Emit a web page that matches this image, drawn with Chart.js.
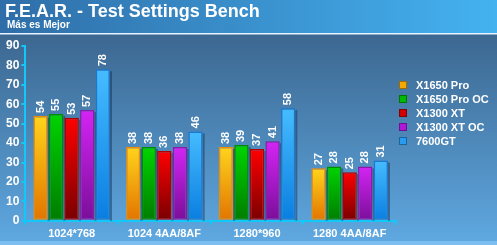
<!DOCTYPE html>
<html>
<head>
<meta charset="utf-8">
<script src="https://cdn.jsdelivr.net/npm/chart.js@4/dist/chart.umd.min.js"></script>
<style>
  html, body { margin: 0; padding: 0; background: #3f79ad; }
  #wrap { width: 497px; height: 245px; position: relative; }
</style>
</head>
<body>
<div id="wrap"><canvas id="benchChart" width="497" height="245"></canvas></div>
<script>
// chart values
const categories = ['1024*768', '1024 4AA/8AF', '1280*960', '1280 4AA/8AF'];
const seriesNames = ['X1650 Pro', 'X1650 Pro OC', 'X1300 XT', 'X1300 XT OC', '7600GT'];
const x1650Pro = [54, 38, 38, 27];
const x1650ProOC = [55, 38, 39, 28];
const x1300XT = [53, 36, 37, 25];
const x1300XTOC = [57, 38, 41, 28];
const gt7600 = [78, 46, 58, 31];
const yTicks = [0, 10, 20, 30, 40, 50, 60, 70, 80, 90];

// top colour, bottom colour, border
const barColors = [
    ['#ffd41c', '#e27400', '#f08c00'],
    ['#00d400', '#007c00', '#008a00'],
    ['#ff0000', '#780000', '#b00000'],
    ['#d424f4', '#7a0e98', '#8a1aa8'],
    ['#46bcff', '#0a7ee0', '#1a78d0']
];
const legendSwatch = ['#f5a800', '#00b800', '#d00000', '#b018d8', '#2a9cf0'];

const AXIS = '#12c8f8';
const FONT = 'Arial, "Liberation Sans", sans-serif';

function gradientFor(i) {
    return (ctx) => {
        const chart = ctx.chart;
        const area = chart.chartArea;
        if (!area) return barColors[i][0];
        const yScale = chart.scales.y;
        const top = yScale.getPixelForValue(ctx.raw || 0);
        const g = chart.ctx.createLinearGradient(0, top, 0, area.bottom);
        g.addColorStop(0, barColors[i][0]);
        g.addColorStop(1, barColors[i][1]);
        return g;
    };
}

// background, header and title
const backdrop = {
    id: 'backdrop',
    beforeDraw(chart) {
        const c = chart.ctx;
        const w = chart.width, h = chart.height;
        c.save();
        let g = c.createLinearGradient(0, 34, 0, h);
        g.addColorStop(0, '#3c6790');
        g.addColorStop(1, '#5fa9e2');
        c.fillStyle = g;
        c.fillRect(0, 0, w, h);
        g = c.createLinearGradient(0, 0, w, 0);
        g.addColorStop(0, '#2f6ea8');
        g.addColorStop(1, '#44b2f0');
        c.fillStyle = g;
        c.fillRect(0, 0, w, 33);
        c.fillStyle = '#e8f4ff';
        c.fillRect(0, 33, w, 1.5);
        c.fillStyle = '#7cbef0';
        c.fillRect(0, 241, w, 4);
        c.fillStyle = '#ffffff';
        c.textBaseline = 'alphabetic';
        c.font = 'bold 18px ' + FONT;
        c.fillText('F.E.A.R. - Test Settings Bench', 5, 17);
        c.font = 'bold 10px ' + FONT;
        c.fillText('Más es Mejor', 7, 28);
        c.restore();
    },
    afterDatasetsDraw(chart) {
        const c = chart.ctx;
        c.save();
        c.fillStyle = '#ffffff';
        c.font = 'bold 11px ' + FONT;
        c.textAlign = 'left';
        c.textBaseline = 'middle';
        chart.data.datasets.forEach((ds, i) => {
            chart.getDatasetMeta(i).data.forEach((bar, j) => {
                c.save();
                c.translate(bar.x, bar.y - 3);
                c.rotate(-Math.PI / 2);
                c.fillText(String(ds.data[j]), 0, 0);
                c.restore();
            });
        });
        // legend
        const lx = 399, ly = 85, step = 14;
        chart.data.datasets.forEach((ds, i) => {
            const y = ly + i * step;
            c.fillStyle = legendSwatch[i];
            c.fillRect(lx, y - 4, 8, 8);
            c.strokeStyle = 'rgba(0,0,0,0.35)';
            c.lineWidth = 1;
            c.strokeRect(lx + 0.5, y - 3.5, 7, 7);
            c.fillStyle = '#ffffff';
            c.font = 'bold 11px ' + FONT;
            c.fillText(ds.label, lx + 17, y + 0.5);
        });
        c.restore();
    }
};

const barShadow = {
    id: 'barShadow',
    beforeDatasetsDraw(chart) {
        const c = chart.ctx;
        c.save();
        c.fillStyle = 'rgba(20,40,70,0.45)';
        chart.data.datasets.forEach((ds, i) => {
            chart.getDatasetMeta(i).data.forEach((bar) => {
                const half = bar.width / 2;
                c.fillRect(bar.x + half, bar.y + 2, 2, chart.chartArea.bottom - bar.y - 2);
            });
        });
        c.restore();
    }
};

const seriesValues = [x1650Pro, x1650ProOC, x1300XT, x1300XTOC, gt7600];

new Chart(document.getElementById('benchChart'), {
    type: 'bar',
    data: {
        labels: categories,
        datasets: seriesNames.map((name, i) => ({
            label: name,
            data: seriesValues[i],
            backgroundColor: gradientFor(i),
            borderColor: barColors[i][2],
            borderWidth: 1.5,
            borderSkipped: false,
            categoryPercentage: 0.84,
            barPercentage: 0.92
        }))
    },
    options: {
        responsive: false,
        animation: false,
        events: [],
        layout: { padding: { top: 46, right: 101, left: 4, bottom: 1 } },
        plugins: {
            legend: { display: false },
            tooltip: { enabled: false }
        },
        scales: {
            x: {
                grid: {
                    offset: true,
                    drawOnChartArea: false,
                    drawTicks: true,
                    tickLength: 4,
                    color: AXIS,
                    lineWidth: 2
                },
                border: { color: AXIS, width: 2 },
                ticks: {
                    color: '#ffffff',
                    font: { family: FONT, size: 11, weight: 'bold' },
                    padding: 3
                }
            },
            y: {
                min: 0,
                max: 90,
                afterBuildTicks: (axis) => { axis.ticks = yTicks.map(v => ({ value: v })); },
                grid: {
                    drawOnChartArea: false,
                    tickLength: 4,
                    color: AXIS,
                    lineWidth: 2
                },
                border: { color: AXIS, width: 2 },
                ticks: {
                    color: '#ffffff',
                    font: { family: FONT, size: 12, weight: 'bold' },
                    padding: 2
                }
            }
        }
    },
    plugins: [backdrop, barShadow]
});
</script>
</body>
</html>
